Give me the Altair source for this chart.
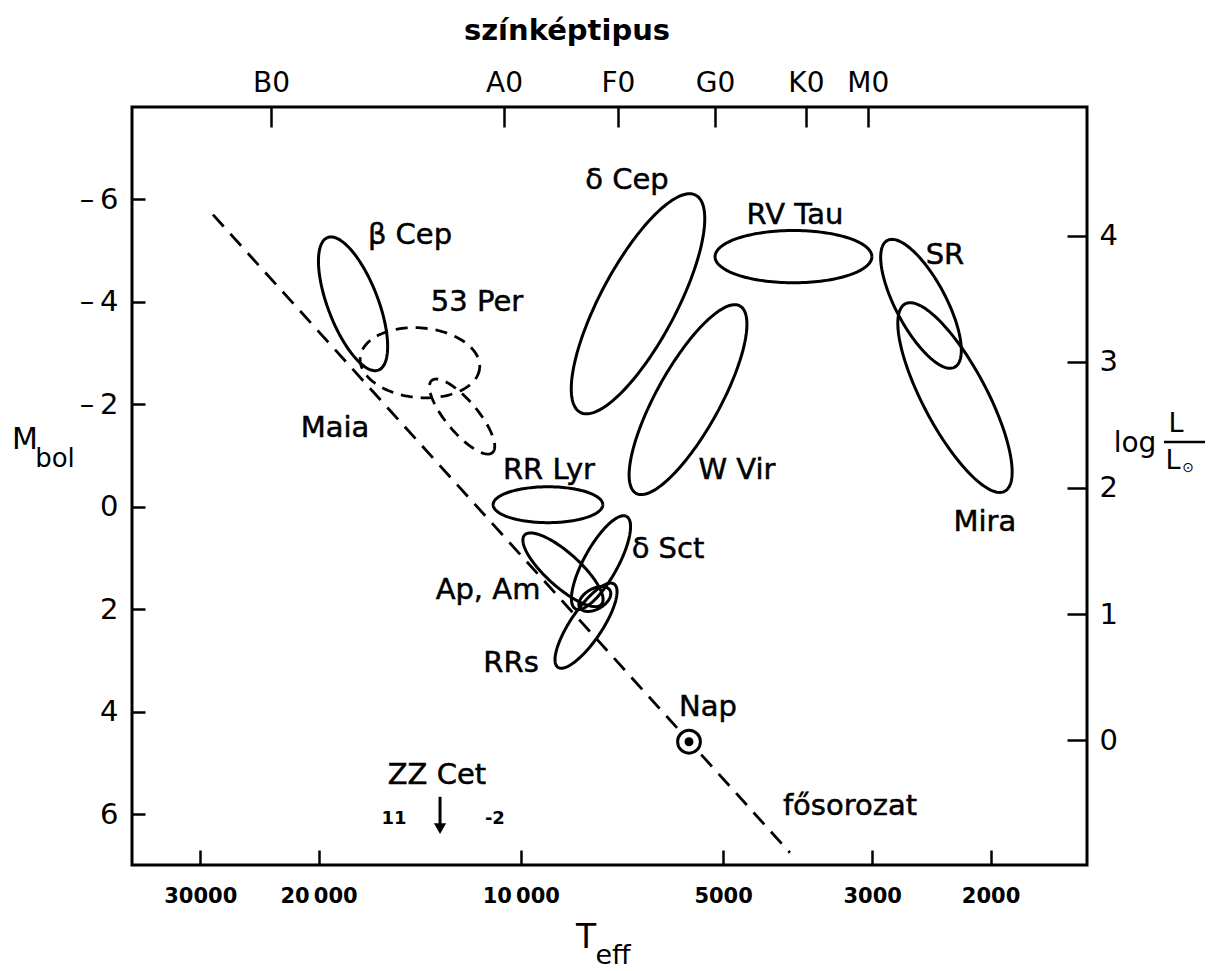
import numpy as np
import pandas as pd
import altair as alt

FONT = "DejaVu Sans"

# ---- frame of the diagram ----------------------------------------------
T_HOT, T_COOL = 37900, 1437          # effective temperature, left -> right
M_TOP, M_BOTTOM = -7.8, 6.99         # bolometric magnitude, top -> bottom
LOGL_TOP, LOGL_BOTTOM = 5.02, -0.99  # the same range expressed as log L/L_sun
W, H = 955, 758

# ---- axes ----------------------------------------------------------------
teff_ticks = [30000, 20000, 10000, 5000, 3000, 2000]
teff_labels = ["30000", "20\u2009000", "10\u2009000", "5000", "3000", "2000"]
sp_types = ["B0", "A0", "F0", "G0", "K0", "M0"]
sp_teff = [23540, 10595, 7170, 5142, 3765, 3045]
mbol_ticks = [-6, -4, -2, 0, 2, 4, 6]
logl_ticks = [0, 1, 2, 3, 4]

# ---- instability regions: centre, semi-axes (mag), tilt (deg, clockwise) --
region_names = ["β Cep", "53 Per", "Maia", "δ Cep", "RV Tau", "W Vir", "SR",
                "Mira", "RR Lyr", "δ Sct", "Ap, Am", "Ap, Am b", "RRs"]
region_teff = [17770, 14130, 12230, 6693, 3929, 5639, 2538,
               2259, 9112, 7598, 8655, 7760, 7998]
region_mbol = [-3.96, -2.81, -1.76, -3.96, -4.88, -2.09, -3.96,
               -2.13, -0.04, 1.09, 1.23, 1.80, 2.32]
region_a = [1.385, 1.17, 0.92, 2.40, 1.53, 2.09, 1.40,
            2.07, 1.07, 1.03, 1.01, 0.34, 0.98]
region_b = [0.49, 0.68, 0.31, 0.74, 0.51, 0.62, 0.49,
            0.62, 0.35, 0.33, 0.33, 0.20, 0.31]
region_tilt = [69, 5, 50, -62, 0, -61, 62, 62, 0, -61, 42, -30, -56]
dashed_regions = ["53 Per", "Maia"]

# ---- main sequence, Sun, ZZ Cet --------------------------------------------
ms_teff = [28720, 3977]
ms_mbol = [-5.70, 6.75]
sun_teff, sun_mbol = 5620, 4.585
zz_teff = 13190
zz_mbol = [5.66, 6.28]
zz_range_text = ["11", "-2"]
zz_range_teff = [15440, 10930]
zz_range_mbol = [6.09, 6.09]

# ---- labels ----------------------------------------------------------------
label_text = ["β Cep", "53 Per", "Maia", "δ Cep", "RV Tau", "SR", "W Vir",
              "RR Lyr", "δ Sct", "Ap, Am", "RRs", "Nap", "ZZ Cet",
              "fősorozat", "Mira"]
label_teff = [14620, 11620, 18900, 6950, 3909, 2338, 4768,
              9080, 6040, 11190, 10340, 5266, 13330, 3237, 2039]
label_mbol = [-5.31, -4.00, -1.54, -6.38, -5.70, -4.92, -0.72,
              -0.72, 0.82, 1.62, 3.04, 3.90, 5.23, 5.83, 0.29]

# ---- build ellipse outlines in (Teff, Mbol) ----------------------------------
log_span = np.log10(T_HOT) - np.log10(T_COOL)
mag_per_dex = (W / log_span) / (H / (M_BOTTOM - M_TOP))
rows = []
t = np.linspace(0, 2 * np.pi, 161)
for name, tc, mc, a, b, tilt in zip(region_names, region_teff, region_mbol,
                                    region_a, region_b, region_tilt):
    phi = np.radians(tilt)
    u = a * np.cos(t) * np.cos(phi) - b * np.sin(t) * np.sin(phi)
    v = a * np.cos(t) * np.sin(phi) + b * np.sin(t) * np.cos(phi)
    logt = np.log10(tc) - u / mag_per_dex
    for i, (lt, vv) in enumerate(zip(logt, v)):
        rows.append({"region": name, "i": i, "T": 10 ** lt, "M": mc + vv,
                     "dashed": name in dashed_regions})
ellipses = pd.DataFrame(rows)

ms = pd.DataFrame({"T": ms_teff, "M": ms_mbol})
sun = pd.DataFrame({"T": [sun_teff], "M": [sun_mbol]})
zz = pd.DataFrame({"T": [zz_teff], "M": [zz_mbol[0]], "M2": [zz_mbol[1]]})
zz_txt = pd.DataFrame({"text": zz_range_text, "T": zz_range_teff, "M": zz_range_mbol})
labels = pd.DataFrame({"text": label_text, "T": label_teff, "M": label_mbol})
one = pd.DataFrame({"k": [0]})


def label_expr(values, texts):
    expr = "''"
    for v, s in reversed(list(zip(values, texts))):
        expr = f"datum.value == {v} ? '{s}' : {expr}"
    return expr


xscale = alt.Scale(type="log", domain=[T_COOL, T_HOT], reverse=True, nice=False)
yscale = alt.Scale(domain=[M_TOP, M_BOTTOM], reverse=True, nice=False, zero=False)

x_bottom = alt.X("T:Q", scale=xscale, axis=alt.Axis(
    orient="bottom", values=teff_ticks, labelExpr=label_expr(teff_ticks, teff_labels),
    offset=-15, tickSize=15, tickWidth=2.5, tickColor="black", domain=False,
    grid=False, labelFont=FONT, labelFontSize=21, labelFontWeight="bold",
    labelColor="black", labelPadding=20, title=None))
y_left = alt.Y("M:Q", scale=yscale, axis=alt.Axis(
    orient="left", values=mbol_ticks,
    labelExpr="datum.value < 0 ? '\u2013\u2009' + abs(datum.value) : '' + datum.value",
    offset=-13, tickSize=13, tickWidth=2.5, tickColor="black", domain=False,
    grid=False, labelFont=FONT, labelFontSize=29, labelColor="black",
    labelPadding=14, title=None))
X = alt.X("T:Q", scale=xscale)
Y = alt.Y("M:Q", scale=yscale)

ell_solid = alt.Chart(ellipses).transform_filter("!datum.dashed").mark_line(
    color="black", strokeWidth=3).encode(
    x=x_bottom, y=y_left, detail="region:N", order="i:Q")
ell_dashed = alt.Chart(ellipses).transform_filter("datum.dashed").mark_line(
    color="black", strokeWidth=2.8, strokeDash=[12, 8]).encode(
    x=X, y=Y, detail="region:N", order="i:Q")
ms_line = alt.Chart(ms).mark_line(color="black", strokeWidth=2.8,
                                  strokeDash=[16, 10]).encode(x=X, y=Y)
sun_ring = alt.Chart(sun).mark_point(shape="circle", size=520, filled=True,
                                     fill="white", stroke="black",
                                     strokeWidth=3, opacity=1).encode(x=X, y=Y)
sun_dot = alt.Chart(sun).mark_point(shape="circle", size=80, filled=True,
                                    color="black", opacity=1).encode(x=X, y=Y)
zz_shaft = alt.Chart(zz).mark_rule(color="black", strokeWidth=3).encode(
    x=X, y=Y, y2="M2:Q")
zz_head = alt.Chart(zz).mark_point(shape="triangle-down", size=150, filled=True,
                                   color="black", opacity=1).encode(
    x=X, y=alt.Y("M2:Q", scale=yscale))
zz_numbers = alt.Chart(zz_txt).mark_text(font=FONT, fontSize=18, fontWeight="bold",
                                         color="black").encode(x=X, y=Y, text="text:N")
text_labels = alt.Chart(labels).mark_text(font=FONT, fontSize=29, color="black",
                                          stroke="black", strokeWidth=0.5,
                                          align="center", baseline="middle").encode(
    x=X, y=Y, text="text:N")


def fixed_text(text, x, y, size, weight="normal"):
    return alt.Chart(one).mark_text(text=text, font=FONT, fontSize=size,
                                    fontWeight=weight, color="black",
                                    align="center", baseline="middle").encode(
        x=alt.value(x), y=alt.value(y))


titles = [
    fixed_text("színképtipus", 435, -76, 29, "bold"),
    fixed_text("M", -107, 333, 30),
    fixed_text("bol", -77, 352, 26),
    fixed_text("T", 454, 831, 33),
    fixed_text("eff", 481, 849, 27),
    fixed_text("log", 1003, 337, 28),
    fixed_text("L", 1044, 317, 27),
    fixed_text("L", 1041, 354, 27),
    fixed_text("\u2299", 1056, 361, 14),
    alt.Chart(one).mark_rule(color="black", strokeWidth=2.4).encode(
        x=alt.value(1032), x2=alt.value(1073), y=alt.value(335)),
]

main = alt.layer(ell_solid, ell_dashed, ms_line, sun_ring, sun_dot, zz_shaft,
                 zz_head, zz_numbers, text_labels, *titles)

top_axis = alt.Chart(pd.DataFrame({"T": sp_teff})).mark_rule(opacity=0).encode(
    x=alt.X("T:Q", scale=alt.Scale(type="log", domain=[T_COOL, T_HOT],
                                   reverse=True, nice=False),
            axis=alt.Axis(orient="top", values=sp_teff,
                          labelExpr=label_expr(sp_teff, sp_types),
                          offset=-20, tickSize=20, tickWidth=2.5,
                          tickColor="black", domain=False, grid=False,
                          labelFont=FONT, labelFontSize=28, labelColor="black",
                          labelPadding=10, title=None)))
right_axis = alt.Chart(pd.DataFrame({"L": logl_ticks})).mark_rule(opacity=0).encode(
    y=alt.Y("L:Q", scale=alt.Scale(domain=[LOGL_BOTTOM, LOGL_TOP], nice=False,
                                   zero=False),
            axis=alt.Axis(orient="right", values=logl_ticks, offset=-20,
                          tickSize=20, tickWidth=2.5, tickColor="black",
                          domain=False, grid=False, labelFont=FONT,
                          labelFontSize=29, labelColor="black",
                          labelPadding=12, title=None)))

chart = alt.layer(main, top_axis, right_axis).resolve_scale(
    x="independent", y="independent").properties(
    width=W, height=H, autosize="none",
    padding={"left": 132, "top": 107, "right": 127, "bottom": 106},
    background="white").configure_view(stroke="black", strokeWidth=3)

chart.save("out.html", embed_options={"renderer": "svg", "actions": False})
